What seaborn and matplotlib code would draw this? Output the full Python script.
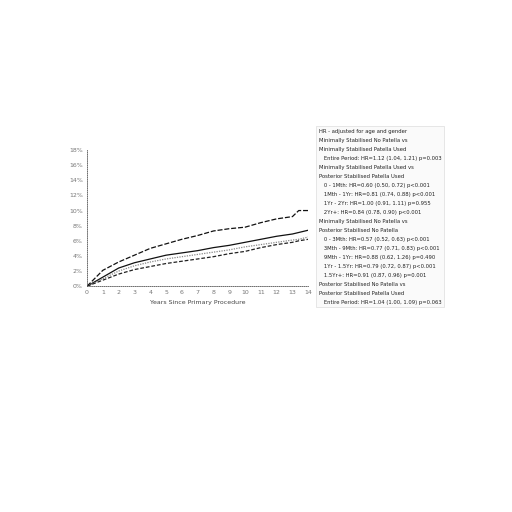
import numpy as np
import pandas as pd
import matplotlib
matplotlib.use("Agg")
import matplotlib.pyplot as plt
import seaborn as sns

# Anos desde o procedimento primário
years = [0, 1, 2, 3, 4, 5, 6, 7, 8, 9, 10, 11, 12, 13, 13.4, 14]

# Percentual cumulativo de revisão
ps_no_patella = [0, 2.1, 3.2, 4.1, 5.0, 5.6, 6.2, 6.7, 7.3, 7.6, 7.8, 8.4, 8.9, 9.2, 10.0, 10.0]
ms_no_patella = [0, 1.2, 2.4, 3.1, 3.6, 4.1, 4.4, 4.7, 5.1, 5.4, 5.8, 6.2, 6.6, 6.9, 7.1, 7.4]
ps_patella = [0, 1.0, 2.0, 2.7, 3.2, 3.6, 3.9, 4.2, 4.5, 4.8, 5.2, 5.5, 5.8, 6.1, 6.2, 6.5]
ms_patella = [0, 0.8, 1.6, 2.2, 2.6, 3.0, 3.3, 3.6, 3.9, 4.3, 4.6, 5.1, 5.5, 5.8, 6.0, 6.2]

series = ["PS No Patella", "MS No Patella", "PS Patella Used", "MS Patella Used"]
styles = {"PS No Patella": (4, 1.5), "MS No Patella": "", "PS Patella Used": (1, 1), "MS Patella Used": (3, 1.5)}
colors = {"PS No Patella": "#111111", "MS No Patella": "#111111", "PS Patella Used": "#888888", "MS Patella Used": "#222222"}

y_ticks = [0, 2, 4, 6, 8, 10, 12, 14, 16, 18]
x_ticks = list(range(0, 15))

legend_lines = [
    "HR - adjusted for age and gender",
    "Minimally Stabilised No Patella vs",
    "Minimally Stabilised Patella Used",
    "   Entire Period: HR=1.12 (1.04, 1.21) p=0.003",
    "Minimally Stabilised Patella Used vs",
    "Posterior Stabilised Patella Used",
    "   0 - 1Mth: HR=0.60 (0.50, 0.72) p<0.001",
    "   1Mth - 1Yr: HR=0.81 (0.74, 0.88) p<0.001",
    "   1Yr - 2Yr: HR=1.00 (0.91, 1.11) p=0.955",
    "   2Yr+: HR=0.84 (0.78, 0.90) p<0.001",
    "Minimally Stabilised No Patella vs",
    "Posterior Stabilised No Patella",
    "   0 - 3Mth: HR=0.57 (0.52, 0.63) p<0.001",
    "   3Mth - 9Mth: HR=0.77 (0.71, 0.83) p<0.001",
    "   9Mth - 1Yr: HR=0.88 (0.62, 1.26) p=0.490",
    "   1Yr - 1.5Yr: HR=0.79 (0.72, 0.87) p<0.001",
    "   1.5Yr+: HR=0.91 (0.87, 0.96) p=0.001",
    "Posterior Stabilised No Patella vs",
    "Posterior Stabilised Patella Used",
    "   Entire Period: HR=1.04 (1.00, 1.09) p=0.063",
]

df = pd.DataFrame({
    "years": years * 4,
    "crp": ps_no_patella + ms_no_patella + ps_patella + ms_patella,
    "group": sum([[s] * len(years) for s in series], []),
})

sns.set_style("white")
fig = plt.figure(figsize=(5.12, 5.12), dpi=100)
ax = fig.add_axes([0.170, 0.441, 0.432, 0.266])

sns.lineplot(data=df, x="years", y="crp", hue="group", style="group",
             palette=colors, dashes=styles, linewidth=0.9, ax=ax, legend=False)

ax.set_xlim(0, 14)
ax.set_ylim(0, 18)
ax.set_xticks(x_ticks)
ax.set_yticks(y_ticks)
ax.set_yticklabels([f"{t}%" for t in y_ticks])
ax.tick_params(labelsize=4.5, colors="#777777", length=0, pad=3)
ax.set_xlabel("Years Since Primary Procedure", fontsize=4.5, color="#444444", labelpad=3)
ax.set_ylabel("")
for side in ["top", "right"]:
    ax.spines[side].set_visible(False)
for side in ["left", "bottom"]:
    ax.spines[side].set_linestyle((0, (1, 1.5)))
    ax.spines[side].set_linewidth(0.6)
    ax.spines[side].set_color("#555555")

fig.text(0.623, 0.749, "\n".join(legend_lines), fontsize=3.8, color="#222222",
         va="top", ha="left", linespacing=2.0,
         bbox=dict(boxstyle="square,pad=0.5", fc="#fafafa", ec="#dddddd", lw=0.5))

plt.savefig("out.png", dpi=100)
plt.close()
